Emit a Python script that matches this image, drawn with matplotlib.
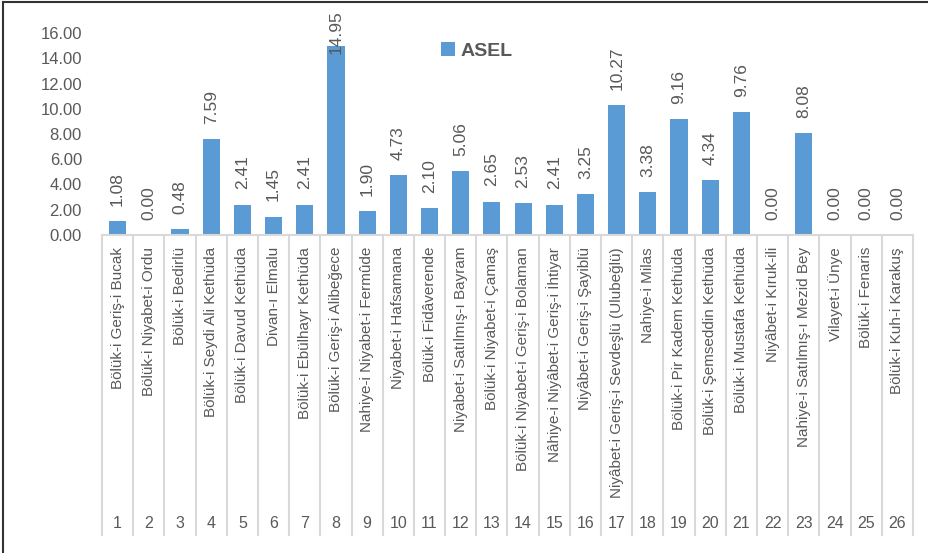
import matplotlib.pyplot as plt
import matplotlib.transforms as mtransforms
from matplotlib.lines import Line2D

plt.rcParams["font.family"] = ["Liberation Sans", "DejaVu Sans"]

CATEGORIES = [
    "Bölük-i Geriş-i Bucak", "Bölük-i Niyabet-i Ordu", "Bölük-i Bedirlü",
    "Bölük-i Seydi Ali Kethüda", "Bölük-i Davud Kethüda", "Divan-ı Elmalu",
    "Bölük-i Ebülhayr Kethüda", "Bölük-i Geriş-i Alibeğece",
    "Nahiye-i Niyabet-i Fermûde", "Niyabet-i Hafsamana", "Bölük-i Fidâverende",
    "Niyabet-i Satılmış-ı Bayram", "Bölük-i Niyabet-i Çamaş",
    "Bölük-i Niyabet-i Geriş-i Bolaman", "Nâhiye-i Niyâbet-i Geriş-i İhtiyar",
    "Niyâbet-i Geriş-i Şayiblü", "Niyâbet-i Geriş-i Sevdeşlü (Ulubeğlü)",
    "Nahiye-i Milas", "Bölük-i Pir Kadem Kethüda", "Bölük-i Şemseddin Kethüda",
    "Bölük-i Mustafa Kethüda", "Niyâbet-i Kıruk-ili", "Nahiye-i Satılmış-ı Mezid Bey",
    "Vilayet-i Ünye", "Bölük-i Fenaris", "Bölük-i Kuh-i Karakuş",
]
NUMBERS = [str(i) for i in range(1, 27)]
ASEL = [1.08, 0.00, 0.48, 7.59, 2.41, 1.45, 2.41, 14.95, 1.90, 4.73, 2.10, 5.06, 2.65,
        2.53, 2.41, 3.25, 10.27, 3.38, 9.16, 4.34, 9.76, 0.00, 8.08, 0.00, 0.00, 0.00]
Y_TICKS = [0, 2, 4, 6, 8, 10, 12, 14, 16]

BLUE = "#5B9BD5"
GRAY = "#595959"
GRID = "#D9D9D9"
W, H = 929, 553

fig = plt.figure(figsize=(W / 100, H / 100), dpi=100)
ax = fig.add_axes([102 / W, 1 - 235 / H, (913 - 102) / W, 202 / H])

x = list(range(len(ASEL)))
bars = ax.bar(x, ASEL, width=0.55, color=BLUE, label="ASEL", zorder=2)
trans = mtransforms.blended_transform_factory(ax.transData, fig.transFigure)
for xi, v in zip(x, ASEL):
    if v > 14:
        # label would leave the chart area, so it is pushed down onto the bar
        ax.text(xi, 1 - 10 / H, f"{v:.2f}", transform=trans, ha="center", va="top",
                rotation=90, fontsize=12.5, color=GRAY, zorder=3)
    else:
        ax.annotate(f"{v:.2f}", (xi, v), xytext=(0, 11), textcoords="offset points",
                    ha="center", va="bottom", rotation=90, fontsize=12.5, color=GRAY)

ax.set_xlim(-0.5, len(ASEL) - 0.5)
ax.set_ylim(0, 16)
ax.set_yticks(Y_TICKS)
ax.set_yticklabels([f"{t:.2f}" for t in Y_TICKS], fontsize=12, color=GRAY)
ax.tick_params(axis="y", length=0, pad=14.4)
ax.set_xticks([])
for s in ["left", "right", "top"]:
    ax.spines[s].set_visible(False)
ax.spines["bottom"].set_color(GRID)
ax.spines["bottom"].set_linewidth(1.5)

# category table below the axis
for i in range(len(ASEL) + 1):
    ax.add_artist(Line2D([i - 0.5, i - 0.5], [1 - 235 / H, 1 - 535 / H], transform=trans,
                         color=GRID, lw=1.5, clip_on=False))
for xi, name, num in zip(x, CATEGORIES, NUMBERS):
    ax.text(xi, 1 - 247 / H, name, transform=trans, rotation=90, ha="center", va="top",
            fontsize=11, color=GRAY)
    ax.text(xi, 1 - 523 / H, num, transform=trans, ha="center", va="center",
            fontsize=11.5, color=GRAY)

ax.legend(loc="center left", bbox_to_anchor=(424 / W, 1 - 51 / H),
          bbox_transform=fig.transFigure, frameon=False, handlelength=0.7,
          handleheight=0.7, handletextpad=0.3, prop={"weight": "bold", "size": 14},
          labelcolor=GRAY)

# outer frame of the original figure
fig.add_artist(Line2D([3 / W, 3 / W], [0, 1 - 2 / H], color="#333333", lw=1.5))
fig.add_artist(Line2D([3 / W, 1], [1 - 2 / H, 1 - 2 / H], color="#333333", lw=1.5))

fig.savefig("out.png", dpi=100)
